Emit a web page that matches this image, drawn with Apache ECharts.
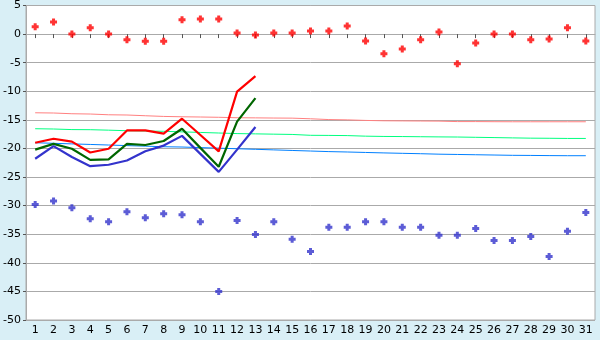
<!DOCTYPE html>
<html><head><meta charset="utf-8">
<script src="https://cdn.jsdelivr.net/npm/echarts@6/dist/echarts.min.js"></script>
<style>html,body{margin:0;padding:0;background:#d9eff6;}#c{width:600px;height:340px;}</style>
</head><body><div id="c"></div>
<script>
var days = ['1','2','3','4','5','6','7','8','9','10','11','12','13','14','15','16','17','18','19','20','21','22','23','24','25','26','27','28','29','30','31'];
var yTicks = [5,0,-5,-10,-15,-20,-25,-30,-35,-40,-45,-50];
var maxPoints = [1.3,2.1,0,1.1,0,-1.0,-1.25,-1.25,2.5,2.65,2.65,0.2,-0.15,0.2,0.2,0.55,0.55,1.43,-1.2,-3.45,-2.6,-1.0,0.38,-5.2,-1.55,0,0,-1.0,-0.85,1.1,-1.2];
var minPoints = [-29.8,-29.2,-30.35,-32.3,-32.8,-31.05,-32.1,-31.4,-31.6,-32.8,-45.0,-32.6,-35.05,-32.8,-35.9,-38.0,-33.8,-33.8,-32.8,-32.8,-33.8,-33.8,-35.2,-35.2,-34.0,-36.1,-36.1,-35.4,-38.9,-34.5,-31.2];
var redLine = [-19.0,-18.3,-18.8,-20.7,-20.05,-16.85,-16.85,-17.4,-14.8,-17.65,-20.5,-10.05,-7.35];
var greenLine = [-20.2,-19.2,-20.05,-22.0,-21.9,-19.2,-19.4,-18.7,-16.55,-19.9,-23.2,-15.3,-11.2];
var blueLine = [-21.8,-19.6,-21.5,-23.1,-22.85,-22.1,-20.5,-19.5,-17.8,-20.95,-24.1,-20.2,-16.25];
var normalHigh = [-13.76,-13.8,-13.93,-13.98,-14.11,-14.15,-14.28,-14.4,-14.46,-14.5,-14.55,-14.63,-14.65,-14.68,-14.7,-14.81,-14.95,-15.0,-15.1,-15.16,-15.18,-15.2,-15.22,-15.3,-15.3,-15.32,-15.33,-15.33,-15.33,-15.33,-15.33];
var normalMid = [-16.55,-16.6,-16.7,-16.72,-16.8,-16.9,-16.95,-17.0,-17.1,-17.2,-17.3,-17.4,-17.45,-17.5,-17.55,-17.7,-17.72,-17.75,-17.85,-17.9,-17.92,-17.95,-17.98,-18.0,-18.05,-18.1,-18.15,-18.2,-18.22,-18.25,-18.25];
var normalLow = [-19.0,-19.1,-19.2,-19.3,-19.4,-19.5,-19.6,-19.7,-19.75,-19.85,-19.95,-20.05,-20.15,-20.25,-20.35,-20.45,-20.55,-20.62,-20.7,-20.78,-20.85,-20.92,-21.0,-21.05,-21.1,-21.15,-21.2,-21.22,-21.25,-21.27,-21.27];

var plus = 'path://M2,0H5V2H7V5H5V7H2V5H0V2H2Z';
var chart = echarts.init(document.getElementById('c'), null, {renderer:'canvas'});
function thin(data, color){
  return {type:'line', data:data, symbol:'none', lineStyle:{color:color, width:1}, silent:true, z:2, animation:false};
}
function thick(data, color){
  return {type:'line', data:data, symbol:'none', lineStyle:{color:color, width:2.2}, z:3, animation:false};
}
chart.setOption({
  backgroundColor:'#d9eff6',
  animation:false,
  grid:{left:26, right:5, top:5, bottom:20, show:true, backgroundColor:'#ffffff', borderColor:'#aaaaaa', borderWidth:1},
  xAxis:{type:'category', data:days, boundaryGap:true,
    axisLine:{show:true, lineStyle:{color:'#aaaaaa'}},
    axisTick:{show:true, alignWithLabel:true, length:4, lineStyle:{color:'#555555'}},
    axisLabel:{color:'#000', fontFamily:'DejaVu Sans', fontSize:11, margin:5, interval:0},
    splitLine:{show:false}},
  yAxis:{type:'value', min:-50, max:5, interval:5,
    axisLine:{show:true, lineStyle:{color:'#aaaaaa'}},
    axisTick:{show:true, length:3, lineStyle:{color:'#555555'}},
    axisLabel:{color:'#000', fontFamily:'DejaVu Sans', fontSize:11, margin:5},
    splitLine:{show:true, lineStyle:{color:'#aaaaaa', width:1}}},
  series:[
    thin(normalHigh,'#ff8080'),
    thin(normalMid,'#00ff80'),
    thin(normalLow,'#0080ff'),
    thick(redLine,'#ff0000'),
    thick(greenLine,'#006600'),
    thick(blueLine,'#3333cc'),
    {type:'scatter', data:maxPoints, symbol:plus, symbolSize:7, itemStyle:{color:'#ff0000'}, z:4},
    {type:'scatter', data:minPoints, symbol:plus, symbolSize:7, itemStyle:{color:'#3333cc'}, z:4}
  ]
});
</script></body></html>
